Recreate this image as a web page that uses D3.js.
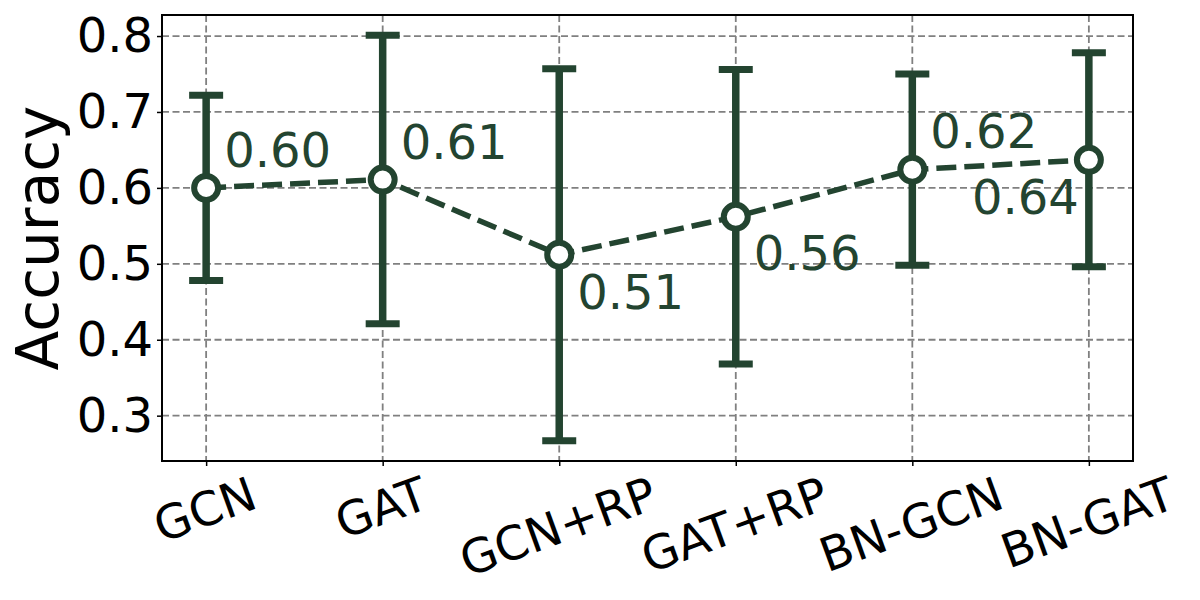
<!DOCTYPE html>
<html>
<head>
<meta charset="utf-8">
<script src="https://cdn.jsdelivr.net/npm/d3@7"></script>
<style>
  html, body { margin: 0; padding: 0; background: #fff; }
  svg { display: block; font-family: "DejaVu Sans", sans-serif; }
</style>
</head>
<body>
<svg id="chart" width="1200" height="600"></svg>
<script>
// ---- data ----
const categories = ["GCN", "GAT", "GCN+RP", "GAT+RP", "BN-GCN", "BN-GAT"];
const means = [0.600, 0.611, 0.512, 0.562, 0.624, 0.637];
const stds  = [0.122, 0.190, 0.245, 0.194, 0.126, 0.141];
const yTicks = [0.3, 0.4, 0.5, 0.6, 0.7, 0.8];
const yLabel = "Accuracy";

// ---- layout / style ----
const W = 1200, H = 600;
const margin = { left: 162, right: 67, top: 15, bottom: 139 };
const color = "#234430";
const tickFont = 48, xTickFont = 47, annFont = 48, labelFont = 58;
// annotation placement: [dx, dy, anchor]
const labelPlacement = [
  [18, -21, "start"], [18, -21, "start"], [18, 54, "start"],
  [18, 53, "start"], [18, -22, "start"], [-10, 54, "end"]
];

const svg = d3.select("#chart");
const iw = W - margin.left - margin.right;
const ih = H - margin.top - margin.bottom;
const g = svg.append("g").attr("transform", `translate(${margin.left},${margin.top})`);

const n = categories.length;
const x = d3.scaleLinear().domain([-0.05 * (n - 1), (n - 1) * 1.05]).range([0, iw]);
const lo = d3.min(means.map((m, i) => m - stds[i]));
const hi = d3.max(means.map((m, i) => m + stds[i]));
const pad = (hi - lo) * 0.05;
const y = d3.scaleLinear().domain([lo - pad, hi + pad]).range([ih, 0]);

// grid
g.append("g").selectAll("line").data(yTicks).join("line")
  .attr("x1", 0).attr("x2", iw)
  .attr("y1", d => y(d)).attr("y2", d => y(d))
  .attr("stroke", "#808080").attr("stroke-width", 1.8).attr("stroke-dasharray", "7,3.5");
g.append("g").selectAll("line").data(d3.range(n)).join("line")
  .attr("x1", d => x(d)).attr("x2", d => x(d))
  .attr("y1", 0).attr("y2", ih)
  .attr("stroke", "#808080").attr("stroke-width", 1.8).attr("stroke-dasharray", "7,3.5");

// axes
const yAxis = g.append("g").call(d3.axisLeft(y).tickValues(yTicks).tickFormat(d3.format(".1f")).tickSize(5).tickPadding(4));
yAxis.select(".domain").remove();
yAxis.selectAll("line").attr("stroke", "#000").attr("stroke-width", 1.5);
yAxis.selectAll("text").attr("font-size", tickFont).attr("fill", "#000")
  .attr("font-family", "DejaVu Sans");

const xAxis = g.append("g").attr("transform", `translate(0,${ih})`)
  .call(d3.axisBottom(x).tickValues(d3.range(n)).tickFormat(i => categories[i]).tickSize(5));
xAxis.select(".domain").remove();
xAxis.selectAll("line").attr("stroke", "#000").attr("stroke-width", 1.5);
const rad = 20 * Math.PI / 180;
const capH = 0.73 * xTickFont;
xAxis.selectAll("text")
  .attr("font-size", xTickFont).attr("fill", "#000").attr("font-family", "DejaVu Sans")
  .attr("text-anchor", "middle").attr("y", 0).attr("dy", 0)
  .each(function() {
    const t = d3.select(this);
    const w = this.getComputedTextLength();
    const cy = 14 + (w * Math.sin(rad) + capH * Math.cos(rad)) / 2;
    t.attr("transform", `translate(-2,${cy}) rotate(-20) translate(0,${capH / 2})`);
  });

// frame
g.append("rect").attr("x", 0).attr("y", 0).attr("width", iw).attr("height", ih)
  .attr("fill", "none").attr("stroke", "#000").attr("stroke-width", 2);

// error bars
const eb = g.append("g");
const capW = 34;
eb.selectAll("line.v").data(means).join("line").attr("class", "v")
  .attr("x1", (d, i) => x(i)).attr("x2", (d, i) => x(i))
  .attr("y1", (d, i) => y(d - stds[i])).attr("y2", (d, i) => y(d + stds[i]))
  .attr("stroke", color).attr("stroke-width", 7.5);
eb.selectAll("line.top").data(means).join("line").attr("class", "top")
  .attr("x1", (d, i) => x(i) - capW / 2).attr("x2", (d, i) => x(i) + capW / 2)
  .attr("y1", (d, i) => y(d + stds[i])).attr("y2", (d, i) => y(d + stds[i]))
  .attr("stroke", color).attr("stroke-width", 7);
eb.selectAll("line.bot").data(means).join("line").attr("class", "bot")
  .attr("x1", (d, i) => x(i) - capW / 2).attr("x2", (d, i) => x(i) + capW / 2)
  .attr("y1", (d, i) => y(d - stds[i])).attr("y2", (d, i) => y(d - stds[i]))
  .attr("stroke", color).attr("stroke-width", 7);

// dashed line
const line = d3.line().x((d, i) => x(i)).y(d => y(d));
g.append("path").datum(means).attr("d", line)
  .attr("fill", "none").attr("stroke", color).attr("stroke-width", 5.5)
  .attr("stroke-dasharray", "20,8");

// markers
g.append("g").selectAll("circle").data(means).join("circle")
  .attr("cx", (d, i) => x(i)).attr("cy", d => y(d)).attr("r", 12)
  .attr("fill", "#fff").attr("stroke", color).attr("stroke-width", 6);

// value labels
g.append("g").selectAll("text").data(means).join("text")
  .attr("x", (d, i) => x(i) + labelPlacement[i][0])
  .attr("y", (d, i) => y(d) + labelPlacement[i][1])
  .attr("text-anchor", (d, i) => labelPlacement[i][2])
  .attr("font-size", annFont).attr("fill", color).attr("font-family", "DejaVu Sans")
  .text(d => d.toFixed(2));

// y label
svg.append("text")
  .attr("transform", `translate(58,${margin.top + ih / 2}) rotate(-90)`)
  .attr("text-anchor", "middle").attr("font-size", labelFont).attr("fill", "#000")
  .attr("font-family", "DejaVu Sans")
  .text(yLabel);
</script>
</body>
</html>
